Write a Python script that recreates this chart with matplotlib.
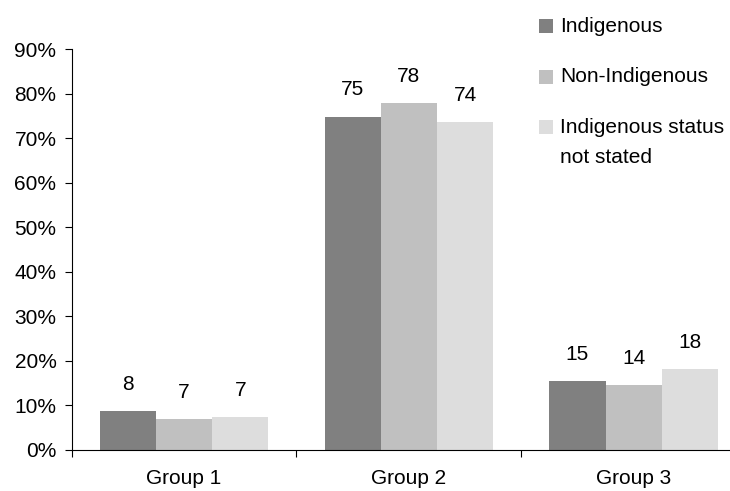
import matplotlib
matplotlib.use("Agg")
import matplotlib.pyplot as plt
from matplotlib.patches import Rectangle
from matplotlib.ticker import FuncFormatter
import numpy as np

plt.rcParams['font.family'] = ['Liberation Sans', 'DejaVu Sans']

# data
groups = ["Group 1", "Group 2", "Group 3"]
series = ["Indigenous", "Non-Indigenous", "Indigenous status\nnot stated"]
indigenous = [8.6, 74.8, 15.3]
non_indigenous = [6.8, 77.8, 14.4]
not_stated = [7.2, 73.5, 18.0]
label_indigenous = ["8", "75", "15"]
label_non_indigenous = ["7", "78", "14"]
label_not_stated = ["7", "74", "18"]

colors = ["#808080", "#c0c0c0", "#dddddd"]
fs = 15

fig = plt.figure(figsize=(7.3, 4.91), dpi=100)
ax = fig.add_axes([0.0982, 0.0845, 0.9238, 0.8157])

x = np.arange(len(groups))
w = 0.25
vals = [indigenous, non_indigenous, not_stated]
labs = [label_indigenous, label_non_indigenous, label_not_stated]
for i, (v, lab) in enumerate(zip(vals, labs)):
    bars = ax.bar(x + (i - 1) * w, v, w, color=colors[i], linewidth=0)
    for b, t in zip(bars, lab):
        ax.annotate(t, (b.get_x() + b.get_width() / 2, b.get_height()),
                    xytext=(0, 12.5), textcoords="offset points",
                    ha="center", va="bottom", fontsize=fs)

ax.set_xlim(-0.5, 2.5)
ax.set_ylim(0, 90)
ax.set_yticks(np.arange(0, 91, 10))
ax.yaxis.set_major_formatter(FuncFormatter(lambda v, p: "%d%%" % v))
ax.set_xticks([-0.5, 0.5, 1.5, 2.5])
ax.set_xticklabels([])
ax.set_xticks(x, minor=True)
ax.set_xticklabels(groups, minor=True)
ax.tick_params(axis="x", which="major", direction="out", length=5, width=0.8)
ax.tick_params(axis="x", which="minor", length=0, pad=14, labelsize=fs)
ax.tick_params(axis="y", direction="out", length=5, width=0.8, pad=6, labelsize=fs)
for s in ["top", "right"]:
    ax.spines[s].set_visible(False)
ax.spines["left"].set_linewidth(0.8)
ax.spines["bottom"].set_linewidth(0.8)

# legend at top right
leg_y = [26.0, 76.5, 127.0]
for c, name, yy in zip(colors, series, leg_y):
    fy = 1 - yy / 491
    fig.patches.append(Rectangle((539 / 730, fy - 7 / 491), 14 / 730, 14 / 491,
                                 transform=fig.transFigure, color=c, lw=0))
    fig.text(560 / 730, fy + 9 / 491, name, fontsize=fs, va="top", ha="left",
             linespacing=1.75)

fig.savefig("out.png", dpi=100)
